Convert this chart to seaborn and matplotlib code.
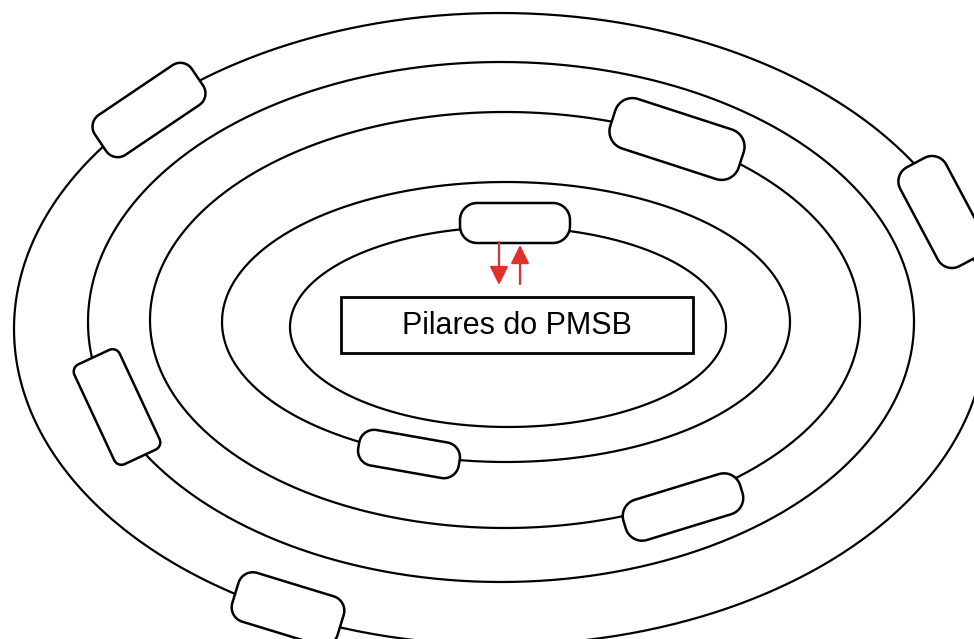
import numpy as np
import pandas as pd
import seaborn as sns
import matplotlib
matplotlib.use("Agg")
from matplotlib import pyplot as plt
from matplotlib.patches import Rectangle

# concentric rings (pixel space, y grows downwards)
ring_cx = [508, 506, 505, 501, 500]
ring_cy = [327, 322, 320, 322, 329]
ring_a = [218, 284, 355, 413, 486]
ring_b = [100, 140, 208, 260, 316]

# rounded "pills" sitting on the rings
pill_x = [149, 677, 942, 117, 409, 683, 288, 515]
pill_y = [110, 139, 212, 407, 454, 507, 609, 223]
pill_len = [117, 135, 112, 110, 102, 122, 110, 110]
pill_wid = [48, 52, 52, 50, 36, 42, 51, 40]
pill_ang = [34, -18, -62, -65, -10, 17, -17, 0]
pill_rad = [14, 18, 16, 8, 15, 17, 15, 17]

center_label = "Pilares do PMSB"
red = "#e0302a"


def pill_outline(cx, cy, length, width, ang, r):
    hx, hy = length / 2 - r, width / 2 - r
    pts = []
    for (ox, oy), start in zip([(hx, hy), (-hx, hy), (-hx, -hy), (hx, -hy)], [0, 90, 180, 270]):
        t = np.radians(np.linspace(start, start + 90, 15))
        pts.append(np.column_stack([ox + r * np.cos(t), oy + r * np.sin(t)]))
    pts = np.vstack(pts + [pts[0][:1]])
    a = np.radians(ang)
    xv = pts[:, 0] * np.cos(a) - pts[:, 1] * np.sin(a)
    yv = pts[:, 0] * np.sin(a) + pts[:, 1] * np.cos(a)
    return cx + xv, cy - yv


sns.set_theme(style="white")
fig = plt.figure(figsize=(9.74, 6.39), dpi=100)
ax = fig.add_axes([0, 0, 1, 1])

t = np.linspace(0, 2 * np.pi, 600)
rows = []
for i in range(len(ring_a)):
    for tt in t:
        rows.append({"ring": i, "t": tt,
                     "x": ring_cx[i] + ring_a[i] * np.cos(tt),
                     "y": ring_cy[i] + ring_b[i] * np.sin(tt)})
rings = pd.DataFrame(rows)

for i, grp in rings.groupby("ring"):
    sns.lineplot(data=grp, x="x", y="y", sort=False, estimator=None,
                 color="black", lw=1.6, ax=ax, zorder=2)

for i in range(len(pill_x)):
    xs, ys = pill_outline(pill_x[i], pill_y[i], pill_len[i], pill_wid[i],
                          pill_ang[i], pill_rad[i])
    ax.fill(xs, ys, facecolor="white", edgecolor="black", lw=1.8, zorder=3)

ax.add_patch(Rectangle((341, 297), 352, 56, facecolor="white",
                       edgecolor="black", lw=2, zorder=3))
ax.text(517, 326, center_label, ha="center", va="center", fontsize=22,
        family=["Liberation Sans", "DejaVu Sans"], color="black", zorder=4)

arrow = dict(arrowstyle="-|>,head_width=0.4,head_length=0.8", color=red,
             lw=1.6, mutation_scale=14, shrinkA=0, shrinkB=0)
ax.annotate("", xy=(499, 285), xytext=(499, 242), arrowprops=arrow, zorder=4)
ax.annotate("", xy=(520, 245), xytext=(520, 284), arrowprops=arrow, zorder=4)

ax.set_xlim(0, 974)
ax.set_ylim(639, 0)
ax.set_xlabel("")
ax.set_ylabel("")
ax.axis("off")

fig.savefig("out.png", dpi=100, facecolor="white")
